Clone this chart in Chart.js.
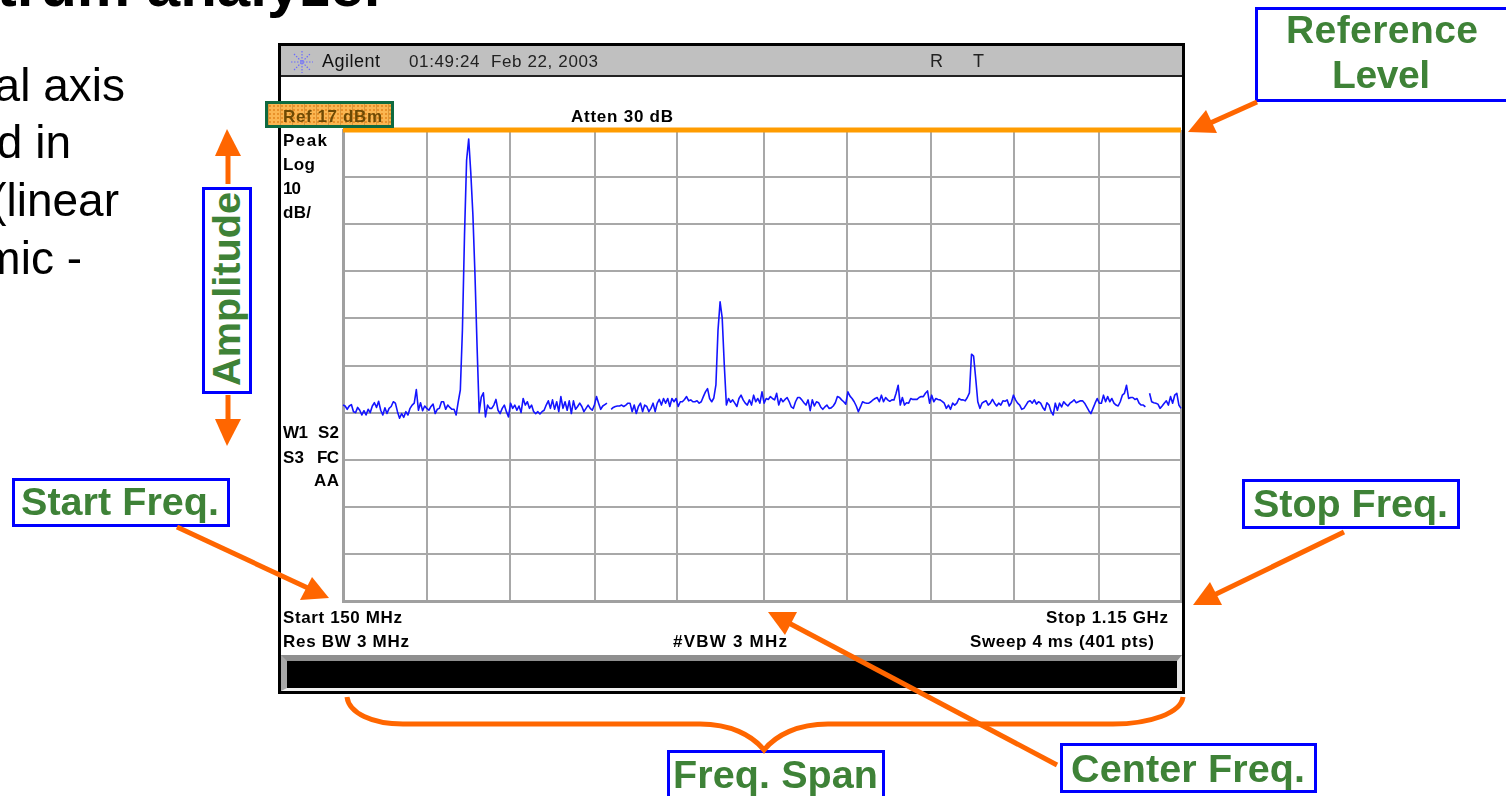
<!DOCTYPE html>
<html><head><meta charset="utf-8">
<script src="https://cdn.jsdelivr.net/npm/chart.js@4"></script>
<style>
html,body{margin:0;padding:0;background:#fff;width:1506px;height:796px;overflow:hidden}
#stage{position:relative;width:1506px;height:796px;overflow:hidden}
.abs{position:absolute;box-sizing:border-box}
canvas{position:absolute;left:0;top:0}
.lbl{position:absolute;white-space:pre;line-height:1;font-family:"Liberation Sans",Arial,sans-serif}
svg{position:absolute;left:0;top:0}
</style></head><body>
<div id="stage">
  <div class="abs" style="left:278px;top:43px;width:907px;height:651px;border:3px solid #000;background:#fff"></div>
  <div class="abs" style="left:281px;top:46px;width:901px;height:31px;background:#c0c0c0;border-bottom:2px solid #222"></div>
  <div class="abs" style="left:281px;top:655px;width:901px;height:36px;background:#000;border-style:solid;border-width:6px 5px 3px 6px;border-color:#8f8f8f #e6e6e6 #efefef #a8a8a8"></div>
  <canvas id="c" width="1506" height="796"></canvas>
  <div class="abs" style="left:265px;top:101px;width:129px;height:27px;border:3px solid #0f6a40;background-color:#fbb651;background-image:linear-gradient(90deg,#d9963a 1px,transparent 1px),radial-gradient(#e8912a 1px,transparent 1.2px);background-size:12px 24px,4px 4px"></div>
  <div class="abs" style="left:12px;top:478px;width:218px;height:49px;border:3px solid #00f;background:#fff"></div>
  <div class="abs" style="left:1242px;top:479px;width:218px;height:50px;border:3px solid #00f;background:#fff"></div>
  <div class="abs" style="left:1060px;top:743px;width:257px;height:50px;border:3px solid #00f;background:#fff"></div>
  <div class="abs" style="left:667px;top:750px;width:218px;height:60px;border:3px solid #00f;background:#fff"></div>
  <div class="abs" style="left:1255px;top:7px;width:270px;height:95px;border:3px solid #00f;background:#fff"></div>
  <div class="abs" style="left:202px;top:187px;width:50px;height:207px;border:3px solid #00f;background:#fff"></div>
  <svg width="1506" height="796" xmlns="http://www.w3.org/2000/svg">
    <g stroke="#6a6aff" stroke-width="1.2" stroke-dasharray="1.5 1.5">
      <line x1="291" y1="62" x2="313" y2="62"/><line x1="302" y1="51" x2="302" y2="73"/>
      <line x1="294" y1="54" x2="310" y2="70"/><line x1="294" y1="70" x2="310" y2="54"/>
    </g>
    <text transform="translate(240,386) rotate(-90)" font-family="Liberation Sans,Arial,sans-serif" font-weight="700" font-size="39" fill="#3e8237" textLength="194" lengthAdjust="spacingAndGlyphs">Amplitude</text>
    <g stroke="#ff6600" stroke-width="5" fill="none">
      <line x1="228" y1="184" x2="228" y2="150"/>
      <line x1="228" y1="395" x2="228" y2="425"/>
      <line x1="1257" y1="102" x2="1208" y2="124"/>
      <line x1="177" y1="527" x2="310" y2="589"/>
      <line x1="1344" y1="532" x2="1212" y2="596"/>
      <line x1="1057" y1="765" x2="785" y2="621"/>
      <path d="M347 697 C349 713 372 724 403 724 L700 724 C730 724 752 735 764 750 C776 735 798 724 828 724 L1113 724 C1150 724 1181 713 1183 697"/>
    </g>
    <g fill="#ff6600">
      <polygon points="227,129 215,156 241,156"/>
      <polygon points="227,446 215,419 241,419"/>
      <polygon points="1188,132 1206,110 1217,133"/>
      <polygon points="329,598 312,577 300,600"/>
      <polygon points="1193,605 1210,582 1222,605"/>
      <polygon points="768,612 797,612 785,635"/>
    </g>
  </svg>
</div>
<script>
// Sweep settings
const startMHz = 150, stopMHz = 1150, pointCount = 401;
const refLevelDbm = 17, bottomDbm = -83;
const xTicks = [150,250,349,451,549,652,751,852,951,1052,1150];
const yTicks = [17,7,-3,-13,-23,-33,-43,-53,-63,-73,-83];
// Trace amplitude in dBm, one value per sweep point
const traceDbm = [
-41.4,-41.6,-42.3,-41.6,-41.3,-42.8,-43.0,-41.9,-42.5,-43.5,
-42.6,-43.5,-42.3,-43.0,-41.6,-40.9,-41.9,-40.6,-42.5,-43.5,
-42.0,-43.2,-42.1,-41.7,-40.7,-41.0,-42.8,-44.2,-43.2,-44.0,
-42.8,-43.5,-42.1,-41.4,-41.0,-38.1,-42.5,-40.9,-42.6,-41.6,
-42.1,-42.5,-41.7,-41.2,-43.2,-42.3,-42.1,-40.7,-40.7,-42.3,
-41.4,-41.9,-42.3,-42.3,-43.5,-40.7,-38.2,-25.5,-5.3,10.6,
15.1,7.9,-1.0,-13.8,-29.0,-43.0,-39.7,-38.8,-43.9,-41.4,
-42.1,-42.1,-41.4,-40.2,-42.5,-43.2,-42.1,-41.4,-42.8,-43.9,
-41.0,-42.1,-41.4,-42.5,-41.6,-43.0,-40.0,-41.4,-40.7,-42.1,
-41.4,-42.8,-43.2,-42.8,-43.3,-42.8,-42.5,-41.4,-40.5,-42.1,
-40.3,-42.3,-40.7,-42.8,-39.6,-42.1,-40.7,-42.5,-40.5,-43.2,
-40.5,-42.3,-41.7,-41.0,-41.7,-42.8,-42.1,-41.4,-42.1,-42.5,
-41.4,-39.6,-41.0,-42.3,-41.6,-41.3,-41.0,null,-42.3,-41.9,
-41.7,-41.6,-41.6,-41.4,-41.7,-41.4,-41.0,-41.0,-42.8,-41.4,
-43.2,-41.7,-41.0,-42.8,-41.4,-41.7,-42.8,-42.1,-41.0,-42.8,
-41.0,-40.2,-41.4,-40.0,-41.0,-40.0,-41.7,-40.0,-40.7,-40.0,
-41.7,-40.7,-40.7,-40.2,-39.6,-40.5,-40.3,-40.7,-40.7,-40.5,
-41.0,-40.7,-39.6,-38.6,-37.9,-40.0,-40.7,-39.9,-37.1,-25.5,
-19.5,-22.9,-32.9,-41.4,-40.0,-40.8,-40.3,-41.0,-41.7,-40.0,
-39.3,-40.3,-41.0,-41.4,-40.3,-41.4,-39.3,-40.7,-40.0,-41.0,
-38.6,-41.0,-40.0,-40.2,-39.6,-40.0,-40.3,-38.9,-41.4,-40.0,
-40.7,-40.2,-39.8,-40.7,-41.8,-42.1,-40.7,-39.8,-39.8,-40.3,
-40.9,-41.4,-40.3,-42.6,-40.3,-41.6,-40.7,-40.9,-41.8,-42.3,
-41.8,-41.4,-42.1,-42.0,-41.6,-40.9,-39.6,-39.8,-40.3,-40.7,
-41.2,-38.6,-39.5,-40.0,-40.7,-41.6,-42.8,-41.8,-40.7,-40.9,
-41.0,-41.0,-40.7,-40.3,-40.0,-39.8,-40.7,-39.3,-40.7,-39.8,
-40.3,-40.6,-40.3,-40.3,-38.9,-37.2,-41.4,-39.8,-41.4,-40.9,
-41.0,-40.0,-40.2,-40.2,-40.2,-39.8,-39.6,-39.6,-38.9,-38.4,
-41.0,-39.3,-40.7,-40.0,-40.2,-40.3,-40.6,-41.0,-42.1,-41.4,
-42.3,-41.0,-41.4,-41.0,-40.0,-40.3,-40.3,-40.5,-39.8,-38.8,
-30.6,-31.0,-35.7,-40.7,-42.1,-41.0,-40.7,-40.5,-41.4,-41.0,
-40.2,-41.0,-41.6,-41.0,-41.4,-40.5,-40.6,-40.3,-41.6,-40.9,
-39.3,-40.3,-41.0,-41.4,-42.3,-42.1,-41.4,-40.7,-40.5,-41.0,
-40.3,-41.2,-40.7,-41.0,-41.9,-42.5,-40.9,-41.4,-42.8,-43.5,
-41.0,-42.5,-41.0,-41.8,-40.7,-41.2,-41.6,-41.0,-40.7,-40.3,
-40.9,-40.7,-40.5,-40.5,-41.0,-41.8,-42.6,-43.2,-42.1,-41.0,
-40.0,-41.0,-41.0,-39.3,-40.7,-39.6,-40.7,-40.0,-41.0,-41.4,
-41.6,-40.7,-39.3,-38.9,-37.2,-40.0,-39.8,-39.8,-40.2,-40.0,
-41.0,-41.4,-41.4,-41.8,null,-38.9,-40.7,-40.9,-41.0,-41.2,
-42.1,-41.6,-41.0,-40.5,-41.4,-39.6,-41.0,-39.3,-38.9,-41.4,
-42.1
];
const stepMHz = (stopMHz - startMHz) / (pointCount - 1);
const tracePoints = traceDbm.map((v, i) => ({ x: startMHz + i * stepMHz, y: v }));
const refLine = [{ x: startMHz, y: refLevelDbm }, { x: stopMHz, y: refLevelDbm }];

new Chart(document.getElementById('c').getContext('2d'), {
  type: 'line',
  data: { datasets: [
    { label: 'Reference level', data: refLine, borderColor: '#ff9c00', borderWidth: 5, pointRadius: 0, clip: false, order: 1 },
    { label: 'Trace', data: tracePoints, borderColor: '#1414ff', borderWidth: 1.6, pointRadius: 0, tension: 0, spanGaps: false, borderJoinStyle: 'round', clip: false, order: 2 }
  ]},
  options: {
    responsive: false, animation: false, events: [],
    layout: { padding: { left: 343, top: 130, right: 325, bottom: 195 } },
    plugins: { legend: { display: false }, tooltip: { enabled: false }, title: { display: false } },
    scales: {
      x: { type: 'linear', min: startMHz, max: stopMHz,
        afterBuildTicks: s => { s.ticks = xTicks.map(v => ({ value: v })); },
        ticks: { display: false },
        grid: { color: '#a8a8a8', lineWidth: 2, drawTicks: false },
        border: { display: true, color: '#a0a0a0', width: 3 } },
      y: { type: 'linear', min: bottomDbm, max: refLevelDbm,
        afterBuildTicks: s => { s.ticks = yTicks.map(v => ({ value: v })); },
        ticks: { display: false },
        grid: { color: '#a8a8a8', lineWidth: 2, drawTicks: false },
        border: { display: true, color: '#a0a0a0', width: 3 } }
    }
  }
});

// Text: [text, x, baseline, size, weight, colour, targetWidth, align]
const G = '#3e8237';
const labels = [
  ['trum analyzer', 387, 7, 60, 700, '#000', 0, 'r'],
  ['al axis', 125, 101, 46, 400, '#000', 0, 'r'],
  ['d in', 71, 158, 46, 400, '#000', 0, 'r'],
  ['(linear', 119, 216, 46, 400, '#000', 0, 'r'],
  ['mic -', 82, 274, 46, 400, '#000', 0, 'r'],
  ['Agilent', 322, 67, 18, 400, '#111', 58],
  ['01:49:24  Feb 22, 2003', 409, 67, 17, 400, '#222', 189],
  ['R', 930, 67, 18, 400, '#222', 0],
  ['T', 973, 67, 18, 400, '#222', 0],
  ['Ref 17 dBm', 283, 122, 17, 700, '#6e4a05', 99],
  ['Atten 30 dB', 571, 122, 17, 700, '#000', 102],
  ['Peak', 283, 146, 17, 700, '#000', 44],
  ['Log', 283, 170, 17, 700, '#000', 32],
  ['10', 283, 194, 17, 700, '#000', 18],
  ['dB/', 283, 218, 17, 700, '#000', 28],
  ['W1', 283, 438, 17, 700, '#000', 25],
  ['S2', 318, 438, 17, 700, '#000', 21],
  ['S3', 283, 463, 17, 700, '#000', 21],
  ['FC', 317, 463, 17, 700, '#000', 22],
  ['AA', 314, 486, 17, 700, '#000', 25],
  ['Start 150 MHz', 283, 623, 17, 700, '#000', 119],
  ['Res BW 3 MHz', 283, 647, 17, 700, '#000', 126],
  ['#VBW 3 MHz', 673, 647, 17, 700, '#000', 114],
  ['Stop 1.15 GHz', 1046, 623, 17, 700, '#000', 122],
  ['Sweep 4 ms (401 pts)', 970, 647, 17, 700, '#000', 184],
  ['Reference', 1286, 43, 39, 700, G, 192],
  ['Level', 1332, 88, 39, 700, G, 98],
  ['Start Freq.', 21, 515, 39.5, 700, G, 198],
  ['Stop Freq.', 1253, 517, 39.5, 700, G, 195],
  ['Center Freq.', 1071, 782, 39.5, 700, G, 234],
  ['Freq. Span', 673, 788, 39.5, 700, G, 205]
];
const stage = document.getElementById('stage');
labels.forEach(([t, x, base, size, weight, color, target, align]) => {
  const el = document.createElement('div');
  el.className = 'lbl';
  el.textContent = t;
  el.style.cssText += `font-size:${size}px;font-weight:${weight};color:${color};top:${base - 0.847 * size}px;`;
  if (align === 'r') el.style.right = (1506 - x) + 'px'; else el.style.left = x + 'px';
  stage.appendChild(el);
  if (target) {
    const w = el.getBoundingClientRect().width;
    el.style.letterSpacing = ((target - w) / Math.max(1, t.length - 1)) + 'px';
  }
});
</script>
</body></html>
